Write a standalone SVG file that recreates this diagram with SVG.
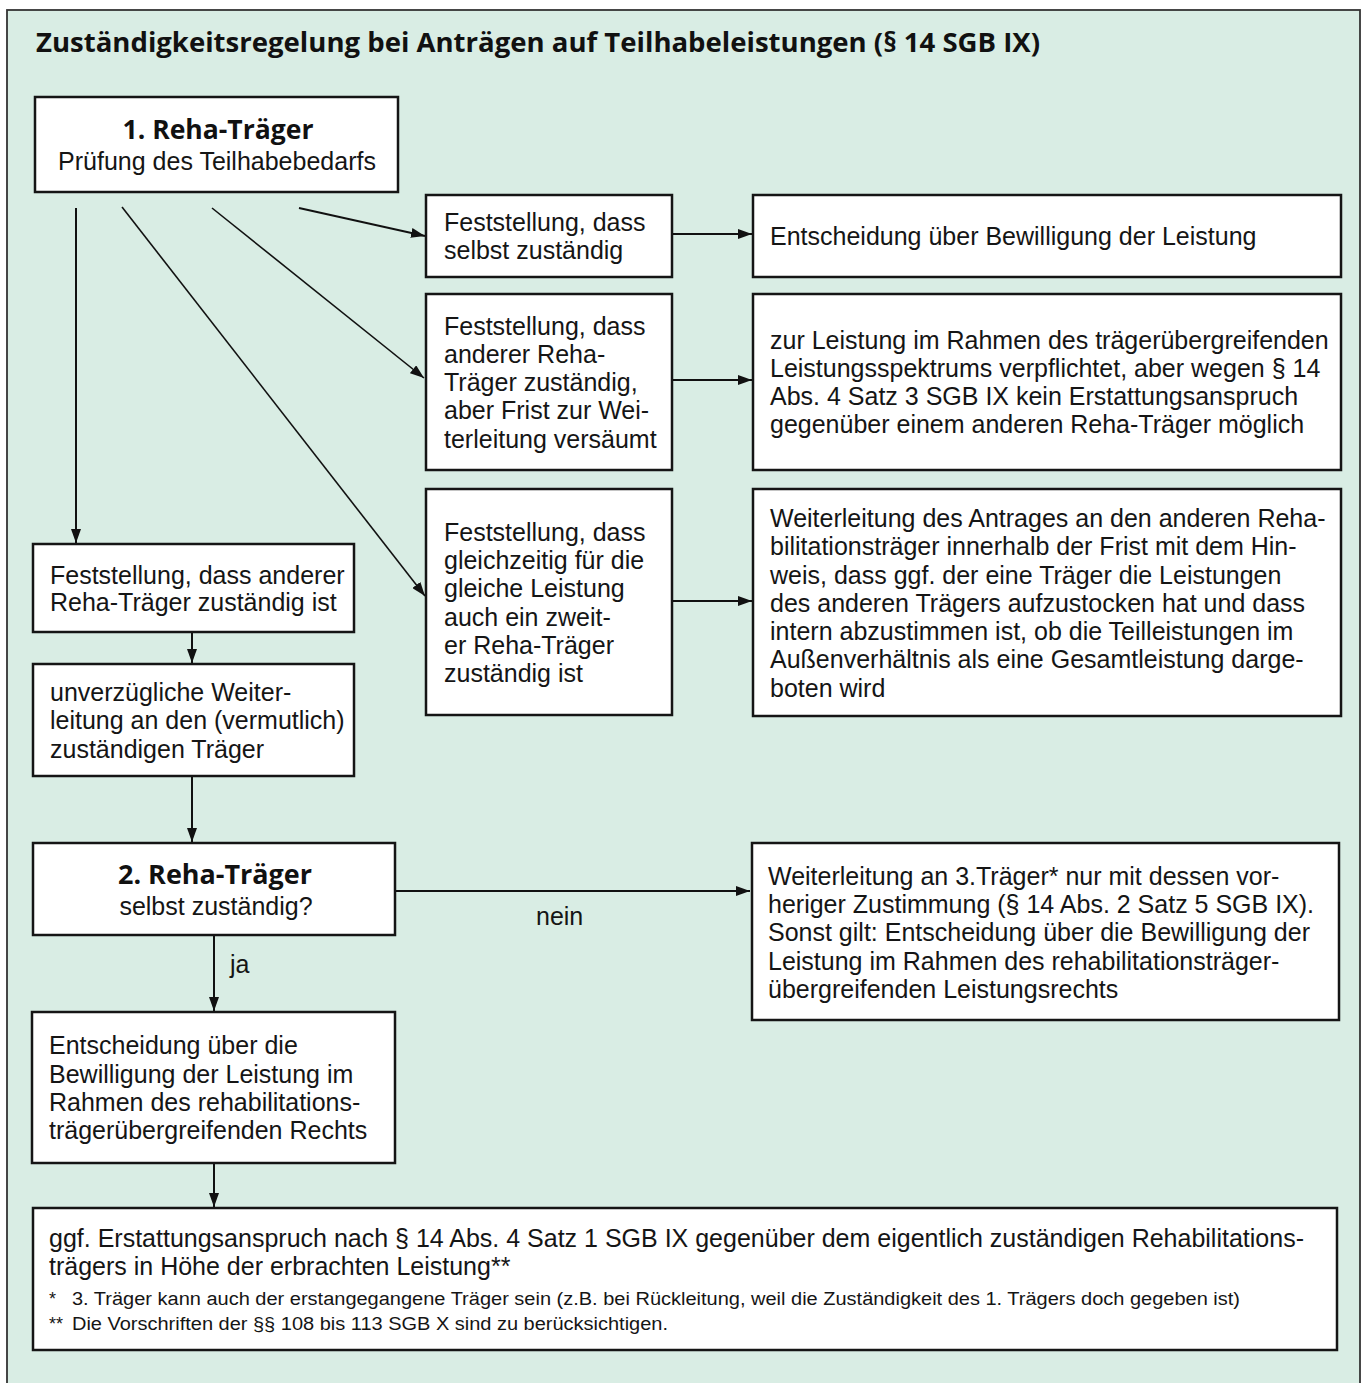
<svg xmlns="http://www.w3.org/2000/svg" width="1364" height="1383" viewBox="0 0 1364 1383">
  <defs>
    <marker id="arrow" viewBox="0 0 14 10" refX="14" refY="5" markerWidth="14" markerHeight="10" markerUnits="userSpaceOnUse" orient="auto">
      <path d="M0,0 L14,5 L0,10 z" fill="#111"/>
    </marker>
    <style>
      .box { fill: #ffffff; stroke: #151515; stroke-width: 2.5; }
      .txt { font-family: "Liberation Sans", Arial, sans-serif; font-size: 25px; fill: #151515; }
      .ctr { text-anchor: middle; }
      .head { font-family: "Open Sans", "DejaVu Sans", sans-serif; font-weight: 700; fill: #111; }
      .note { font-family: "Liberation Sans", Arial, sans-serif; font-size: 18px; fill: #151515; }
      .link { fill: none; stroke: #111; stroke-width: 2; marker-end: url(#arrow); }
      .thin { stroke-width: 1.6; }
    </style>
  </defs>

  <!-- page background and frame -->
  <rect x="0" y="0" width="1364" height="1383" fill="#ffffff"/>
  <rect x="7" y="10" width="1353" height="1385" fill="#d9ede4" stroke="#333" stroke-width="1.8"/>

  <text class="head" x="36" y="52" font-size="26" textLength="1004" lengthAdjust="spacingAndGlyphs">Zuständigkeitsregelung bei Anträgen auf Teilhabeleistungen (§ 14 SGB IX)</text>

  <!-- connectors -->
  <g id="connectors">
    <line class="link" x1="76" y1="208" x2="76" y2="543"/>
    <line class="link thin" x1="122" y1="207" x2="425" y2="596"/>
    <line class="link thin" x1="212" y1="208" x2="424" y2="378"/>
    <line class="link" x1="299" y1="208" x2="425" y2="236"/>
    <line class="link" x1="672" y1="234" x2="752" y2="234"/>
    <line class="link" x1="672" y1="380" x2="752" y2="380"/>
    <line class="link" x1="672" y1="601" x2="752" y2="601"/>
    <line class="link" x1="192" y1="632" x2="192" y2="663"/>
    <line class="link" x1="192" y1="776" x2="192" y2="842"/>
    <line class="link" x1="395" y1="891" x2="750" y2="891"/>
    <line class="link" x1="214" y1="935" x2="214" y2="1011"/>
    <line class="link" x1="214" y1="1163" x2="214" y2="1207"/>
    <text class="txt" x="536" y="925">nein</text>
    <text class="txt" x="230" y="973">ja</text>
  </g>

  <!-- first carrier -->
  <g id="traeger1">
    <rect class="box" x="35" y="97" width="363" height="95"/>
    <text class="head ctr" x="218" y="139" font-size="26" textLength="191" lengthAdjust="spacingAndGlyphs">1. Reha-Träger</text>
    <text class="txt ctr" x="217" y="170">Prüfung des Teilhabebedarfs</text>
  </g>

  <g id="selbst-zustaendig">
    <rect class="box" x="426" y="195" width="246" height="82"/>
    <text class="txt" x="444" y="231">Feststellung, dass</text>
    <text class="txt" x="444" y="259">selbst zuständig</text>
  </g>

  <g id="entscheidung">
    <rect class="box" x="753" y="195" width="588" height="82"/>
    <text class="txt" x="770" y="245">Entscheidung über Bewilligung der Leistung</text>
  </g>

  <g id="frist-versaeumt">
    <rect class="box" x="426" y="294" width="246" height="176"/>
    <text class="txt" x="444" y="335">Feststellung, dass</text>
    <text class="txt" x="444" y="363">anderer Reha-</text>
    <text class="txt" x="444" y="391">Träger zuständig,</text>
    <text class="txt" x="444" y="419">aber Frist zur Wei-</text>
    <text class="txt" x="444" y="448">terleitung versäumt</text>
  </g>

  <g id="verpflichtet">
    <rect class="box" x="753" y="294" width="588" height="176"/>
    <text class="txt" x="770" y="349">zur Leistung im Rahmen des trägerübergreifenden</text>
    <text class="txt" x="770" y="377">Leistungsspektrums verpflichtet, aber wegen § 14</text>
    <text class="txt" x="770" y="405">Abs. 4 Satz 3 SGB IX kein Erstattungsanspruch</text>
    <text class="txt" x="770" y="433">gegenüber einem anderen Reha-Träger möglich</text>
  </g>

  <g id="zweiter-zustaendig">
    <rect class="box" x="426" y="489" width="246" height="226"/>
    <text class="txt" x="444" y="541">Feststellung, dass</text>
    <text class="txt" x="444" y="569">gleichzeitig für die</text>
    <text class="txt" x="444" y="597">gleiche Leistung</text>
    <text class="txt" x="444" y="626">auch ein zweit-</text>
    <text class="txt" x="444" y="654">er Reha-Träger</text>
    <text class="txt" x="444" y="682">zuständig ist</text>
  </g>

  <g id="weiterleitung-antrag">
    <rect class="box" x="753" y="489" width="588" height="227"/>
    <text class="txt" x="770" y="527">Weiterleitung des Antrages an den anderen Reha-</text>
    <text class="txt" x="770" y="555">bilitationsträger innerhalb der Frist mit dem Hin-</text>
    <text class="txt" x="770" y="584">weis, dass ggf. der eine Träger die Leistungen</text>
    <text class="txt" x="770" y="612">des anderen Trägers aufzustocken hat und dass</text>
    <text class="txt" x="770" y="640">intern abzustimmen ist, ob die Teilleistungen im</text>
    <text class="txt" x="770" y="668">Außenverhältnis als eine Gesamtleistung darge-</text>
    <text class="txt" x="770" y="697">boten wird</text>
  </g>

  <g id="anderer-zustaendig">
    <rect class="box" x="33" y="544" width="321" height="88"/>
    <text class="txt" x="50" y="584">Feststellung, dass anderer</text>
    <text class="txt" x="50" y="611">Reha-Träger zuständig ist</text>
  </g>

  <g id="unverzueglich">
    <rect class="box" x="33" y="664" width="321" height="112"/>
    <text class="txt" x="50" y="701">unverzügliche Weiter-</text>
    <text class="txt" x="50" y="729">leitung an den (vermutlich)</text>
    <text class="txt" x="50" y="758">zuständigen Träger</text>
  </g>

  <!-- second carrier -->
  <g id="traeger2">
    <rect class="box" x="33" y="843" width="362" height="92"/>
    <text class="head ctr" x="215" y="884" font-size="26" textLength="194" lengthAdjust="spacingAndGlyphs">2. Reha-Träger</text>
    <text class="txt ctr" x="216" y="915">selbst zuständig?</text>
  </g>

  <g id="dritter-traeger">
    <rect class="box" x="752" y="843" width="587" height="177"/>
    <text class="txt" x="768" y="885">Weiterleitung an 3.Träger* nur mit dessen vor-</text>
    <text class="txt" x="768" y="913">heriger Zustimmung (§ 14 Abs. 2 Satz 5 SGB IX).</text>
    <text class="txt" x="768" y="941">Sonst gilt: Entscheidung über die Bewilligung der</text>
    <text class="txt" x="768" y="970">Leistung im Rahmen des rehabilitationsträger-</text>
    <text class="txt" x="768" y="998">übergreifenden Leistungsrechts</text>
  </g>

  <g id="bewilligung">
    <rect class="box" x="32" y="1012" width="363" height="151"/>
    <text class="txt" x="49" y="1054">Entscheidung über die</text>
    <text class="txt" x="49" y="1083">Bewilligung der Leistung im</text>
    <text class="txt" x="49" y="1111">Rahmen des rehabilitations-</text>
    <text class="txt" x="49" y="1139">trägerübergreifenden Rechts</text>
  </g>

  <g id="erstattung">
    <rect class="box" x="33" y="1208" width="1304" height="142"/>
    <text class="txt" x="49" y="1247">ggf. Erstattungsanspruch nach § 14 Abs. 4 Satz 1 SGB IX gegenüber dem eigentlich zuständigen Rehabilitations-</text>
    <text class="txt" x="49" y="1275">trägers in Höhe der erbrachten Leistung**</text>
    <text class="note" x="49" y="1305">*</text>
    <text class="note" x="72" y="1305" textLength="1168" lengthAdjust="spacingAndGlyphs">3. Träger kann auch der erstangegangene Träger sein (z.B. bei Rückleitung, weil die Zuständigkeit des 1. Trägers doch gegeben ist)</text>
    <text class="note" x="49" y="1330">**</text>
    <text class="note" x="72" y="1330" textLength="596" lengthAdjust="spacingAndGlyphs">Die Vorschriften der §§ 108 bis 113 SGB X sind zu berücksichtigen.</text>
  </g>
</svg>
